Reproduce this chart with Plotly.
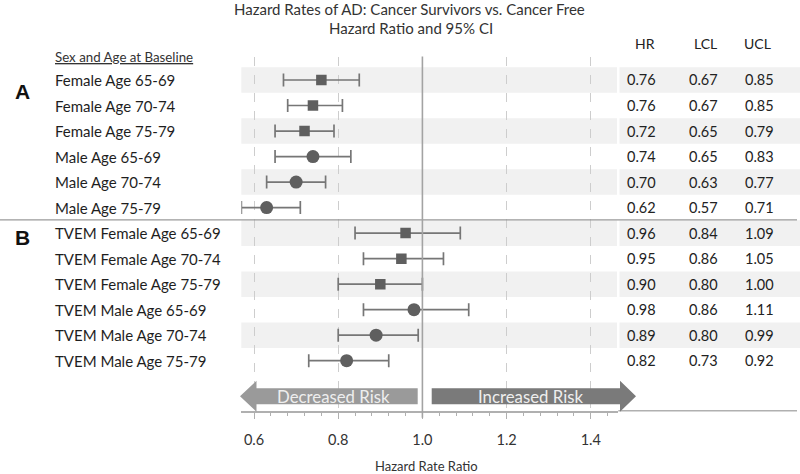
import plotly.graph_objects as go

W, H = 800, 474

# ---------------- data ----------------
labels = ["Female Age 65-69", "Female Age 70-74", "Female Age 75-79",
          "Male Age 65-69", "Male Age 70-74", "Male Age 75-79",
          "TVEM Female Age 65-69", "TVEM Female Age 70-74", "TVEM Female Age 75-79",
          "TVEM Male Age 65-69", "TVEM Male Age 70-74", "TVEM Male Age 75-79"]
sex = ["Female", "Female", "Female", "Male", "Male", "Male",
       "Female", "Female", "Female", "Male", "Male", "Male"]
# values as drawn by the markers / whiskers
hr_plot = [0.76, 0.74, 0.72, 0.74, 0.70, 0.63, 0.96, 0.95, 0.90, 0.98, 0.89, 0.82]
lcl_plot = [0.67, 0.68, 0.65, 0.65, 0.63, 0.57, 0.84, 0.86, 0.80, 0.86, 0.80, 0.73]
ucl_plot = [0.85, 0.81, 0.79, 0.83, 0.77, 0.71, 1.09, 1.05, 1.00, 1.11, 0.99, 0.92]
# values as printed in the table
hr_table = ["0.76", "0.76", "0.72", "0.74", "0.70", "0.62", "0.96", "0.95", "0.90", "0.98", "0.89", "0.82"]
lcl_table = ["0.67", "0.67", "0.65", "0.65", "0.63", "0.57", "0.84", "0.86", "0.80", "0.86", "0.80", "0.73"]
ucl_table = ["0.85", "0.85", "0.79", "0.83", "0.77", "0.71", "1.09", "1.05", "1.00", "1.11", "0.99", "0.92"]
table_headers = ["HR", "LCL", "UCL"]
tick_vals = [0.6, 0.8, 1.0, 1.2, 1.4]
tick_text = ["0.6", "0.8", "1.0", "1.2", "1.4"]
panel_labels = ["A", "B"]

# ---------------- geometry helpers ----------------
FONT = "Lato, 'Open Sans', sans-serif"
ROW0_PX, ROW_STEP = 80.0, 25.52
PLOT_TOP_PX, AXIS_PX = 57.0, 410.7
PLOT_L_PX, PLOT_R_PX = 241.3, 618.3
X_LO, X_HI = 0.5698, 1.4653


def px(x):
    return x / W


def py(y):
    return 1 - y / H


def row_of(ypx):
    return (ypx - ROW0_PX) / ROW_STEP


rows = list(range(len(labels)))

fig = go.Figure()

marker_cfg = {"Female": dict(symbol="square", size=10.5),
              "Male": dict(symbol="circle", size=13)}
for s in ["Female", "Male"]:
    idx = [i for i in rows if sex[i] == s]
    fig.add_trace(go.Scatter(
        x=[hr_plot[i] for i in idx],
        y=[rows[i] for i in idx],
        mode="markers",
        marker=dict(color="#5f5f5f", line=dict(width=0), **marker_cfg[s]),
        error_x=dict(type="data", symmetric=False,
                     array=[ucl_plot[i] - hr_plot[i] for i in idx],
                     arrayminus=[hr_plot[i] - lcl_plot[i] for i in idx],
                     color="#767676", thickness=1.7, width=6.5),
        showlegend=False, hoverinfo="skip",
    ))

shapes = []
# alternating shaded bands
for i in rows:
    if i % 2 == 0:
        for x0, x1 in [(PLOT_L_PX, 617.0), (619.5, W)]:
            shapes.append(dict(type="rect", xref="paper", yref="y",
                               x0=px(x0), x1=px(x1), y0=i - 0.5, y1=i + 0.5,
                               fillcolor="#f1f1f1", line=dict(width=0), layer="below"))
# separator between panels A and B
shapes.append(dict(type="line", xref="paper", yref="y", x0=0, x1=px(797), y0=5.48, y1=5.48,
                   line=dict(color="#9a9a9a", width=1.2)))
# reference line at HR = 1
shapes.append(dict(type="line", xref="x", yref="paper", x0=1.0, x1=1.0,
                   y0=py(56.5), y1=py(AXIS_PX + 7), line=dict(color="#a3a3a3", width=1.6)))
# extension of axis line under the table
shapes.append(dict(type="line", xref="paper", yref="paper", x0=px(PLOT_R_PX), x1=px(797),
                   y0=py(AXIS_PX), y1=py(AXIS_PX), line=dict(color="#b0b0b0", width=1.5)))


def arrow_path(body_x0, body_x1, tip_x, yc, bh, hh):
    if tip_x < body_x0:  # left-pointing
        pts = [(tip_x, yc), (body_x0, yc - hh), (body_x0, yc - bh), (body_x1, yc - bh),
               (body_x1, yc + bh), (body_x0, yc + bh), (body_x0, yc + hh)]
    else:
        pts = [(body_x0, yc - bh), (body_x1, yc - bh), (body_x1, yc - hh), (tip_x, yc),
               (body_x1, yc + hh), (body_x1, yc + bh), (body_x0, yc + bh)]
    return "M " + " L ".join(f"{px(x):.5f},{py(y):.5f}" for x, y in pts) + " Z"


YC = 396.3
shapes.append(dict(type="path", xref="paper", yref="paper",
                   path=arrow_path(256.5, 417.7, 240.0, YC, 8.0, 15.5),
                   fillcolor="#9a9a9a", line=dict(width=0)))
shapes.append(dict(type="path", xref="paper", yref="paper",
                   path=arrow_path(431.7, 620.0, 636.0, YC, 8.0, 15.5),
                   fillcolor="#7a7a7a", line=dict(width=0)))

ann = []


def text(t, xpx, ypx=None, yrow=None, size=14, color="#222222", xanchor="center", family=FONT):
    d = dict(text=t, x=px(xpx), xref="paper", xanchor=xanchor, yanchor="middle",
             showarrow=False, font=dict(family=family, size=size, color=color))
    if yrow is None:
        d.update(y=py(ypx), yref="paper")
    else:
        d.update(y=yrow, yref="y")
    ann.append(d)


# arrow texts
text("Decreased Risk", 333, YC, size=16.8, color="#eeeeee")
text("Increased Risk", 530, YC, size=16.8, color="#eeeeee")
# titles
text("Hazard Rates of AD: Cancer Survivors vs. Cancer Free", 410, 9, size=15, color="#333333")
text("Hazard Ratio and 95% CI", 410.5, 28.5, size=15, color="#333333")
text("Hazard Rate Ratio", 426.5, 466, size=13, color="#333333")
# header of labels
text("<u>Sex and Age at Baseline</u>", 53, 57.3, size=13.3, color="#333333", xanchor="left")
# panel letters
for lab, ypx in zip(panel_labels, [91.5, 237.5]):
    text(f"<b>{lab}</b>", 22, ypx, size=21, color="#111111", family="Liberation Sans, Arial")
# row labels
for i in rows:
    text(labels[i], 53, yrow=rows[i], size=15, color="#1e1e1e", xanchor="left")
# table
col_x = [641.7, 703.0, 759.5]
head_x = [645.0, 705.5, 757.5]
for hx, h in zip(head_x, table_headers):
    text(h, hx, 43.5, size=14, color="#222222")
for i in rows:
    for cx, col in zip(col_x, [hr_table, lcl_table, ucl_table]):
        text(col[i], cx, yrow=rows[i], size=14.5, color="#222222")

fig.update_layout(
    width=W, height=H,
    margin=dict(l=0, r=0, t=0, b=0),
    paper_bgcolor="white", plot_bgcolor="white",
    shapes=shapes, annotations=ann,
    xaxis=dict(domain=[px(PLOT_L_PX), px(PLOT_R_PX)], range=[X_LO, X_HI],
               tickmode="array", tickvals=tick_vals, ticktext=tick_text,
               showgrid=True, gridcolor="#cdcdcd", griddash="dash", gridwidth=1,
               zeroline=False, showline=True, linecolor="#b0b0b0", linewidth=1.5,
               ticks="outside", ticklen=7, tickwidth=1.2, tickcolor="#b0b0b0",
               ticklabelstandoff=8,
               tickfont=dict(family=FONT, size=14.5, color="#333333"),
               minor=dict(tickmode="linear", tick0=0.6, dtick=0.04, ticks="outside",
                          ticklen=4, tickcolor="#b0b0b0", tickwidth=1, showgrid=False),
               fixedrange=True),
    yaxis=dict(domain=[py(AXIS_PX), py(PLOT_TOP_PX)],
               range=[row_of(AXIS_PX), row_of(PLOT_TOP_PX)],
               visible=False, showgrid=False, zeroline=False, fixedrange=True),
)

fig.write_html("out.html", config={"displayModeBar": False},
               post_script="document.body.style.margin='0';document.body.style.padding='0';")
